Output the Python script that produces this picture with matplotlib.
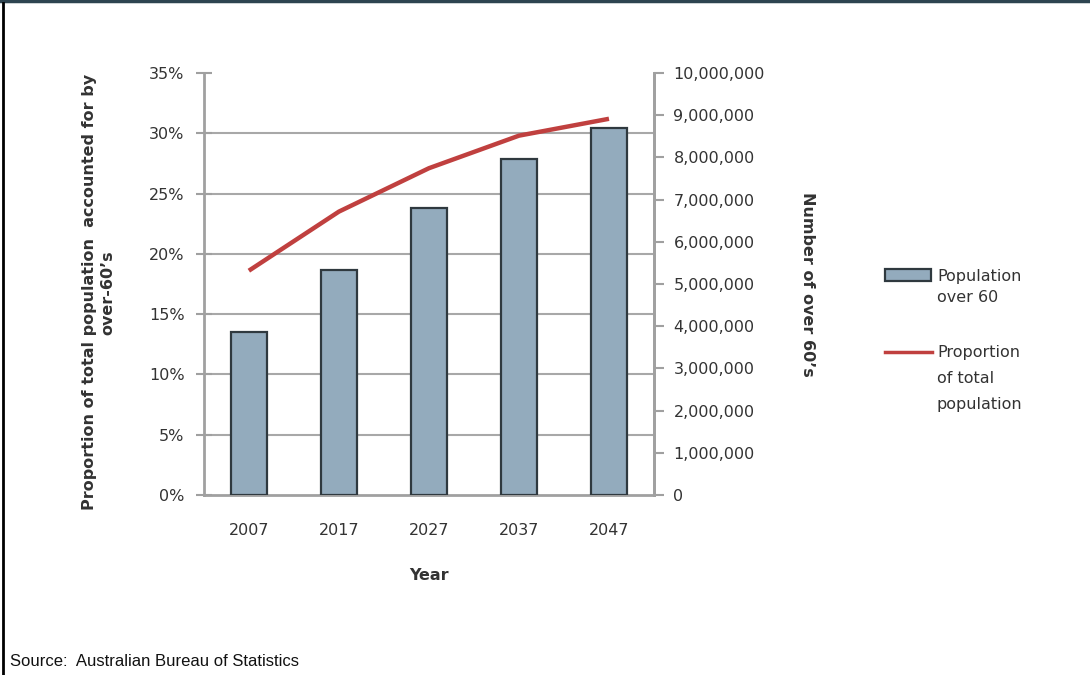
import numpy as np
import matplotlib
matplotlib.use('Agg')
import matplotlib.pyplot as plt
from matplotlib.lines import Line2D
from matplotlib.patches import Rectangle
from matplotlib.ticker import FuncFormatter

# data
years = ['2007', '2017', '2027', '2037', '2047']
over60 = [3870000, 5330000, 6790000, 7960000, 8690000]   # number of over 60's
proportion = [18.6, 23.5, 27.1, 29.8, 31.2]               # % of total population

pct_ticks = [0, 5, 10, 15, 20, 25, 30, 35]
num_ticks = np.arange(0, 10000001, 1000000)

spine_col = '#a0a0a0'
txt_col = '#333333'
bar_col = '#93abbd'
bar_edge = '#2f393f'
line_col = '#c0403f'
fs = 11.5

plt.rcParams['font.family'] = 'sans-serif'
plt.rcParams['font.sans-serif'] = ['DejaVu Sans']

fig = plt.figure(figsize=(10.9, 6.75), dpi=100)
ax_bar = fig.add_axes([0.187, 0.2667, 0.413, 0.6252])
ax_line = ax_bar.twinx()

x = np.arange(len(years))

# bars on the right axis
ax_bar.bar(x, over60, width=0.4, color=bar_col, edgecolor=bar_edge, linewidth=1.6, zorder=3)
ax_bar.set_ylim(0, 10000000)
ax_bar.set_xlim(-0.5, len(years) - 0.5)
ax_bar.yaxis.tick_right()
ax_bar.yaxis.set_label_position('right')
ax_bar.set_yticks(num_ticks)
ax_bar.yaxis.set_major_formatter(FuncFormatter(lambda v, p: '{:,.0f}'.format(v)))
# gridlines follow the percent ticks, drawn under the bars
ax_bar.set_yticks([t / 35 * 10000000 for t in pct_ticks], minor=True)
ax_bar.grid(which='minor', axis='y', color='#a8a8a8', linewidth=1.5, zorder=0)
ax_bar.tick_params(axis='y', which='minor', length=0)
ax_bar.tick_params(axis='y', which='major', direction='out', length=7, width=1.5,
                   color=spine_col, labelsize=fs, labelcolor=txt_col, pad=7)
ax_bar.set_xticks(x)
ax_bar.set_xticklabels(years)
ax_bar.tick_params(axis='x', length=0, labelsize=fs, labelcolor=txt_col, pad=20)
ax_bar.set_xlabel('Year', fontsize=fs, fontweight='bold', color=txt_col, labelpad=22)
ax_bar.set_ylabel('Number of over 60\u2019s', fontsize=fs, fontweight='bold', color=txt_col,
                  rotation=-90, labelpad=25, va='bottom')

# proportion line on the left axis
ax_line.plot(x, proportion, color=line_col, linewidth=3.2, solid_capstyle='butt', zorder=4)
ax_line.set_ylim(0, 35)
ax_line.yaxis.tick_left()
ax_line.yaxis.set_label_position('left')
ax_line.set_yticks(pct_ticks)
ax_line.set_yticklabels(['{}%'.format(t) for t in pct_ticks])
ax_line.tick_params(axis='y', direction='inout', length=12, width=1.5, color=spine_col,
                    labelsize=fs, labelcolor=txt_col, pad=8)
ax_line.set_ylabel('Proportion of total population  accounted for by\nover-60\u2019s',
                   fontsize=fs, fontweight='bold', color=txt_col, linespacing=1.3)
ax_line.yaxis.set_label_coords(-0.197, 0.48)

for a in (ax_bar, ax_line):
    a.spines['top'].set_visible(False)
    for s in ('left', 'right', 'bottom'):
        a.spines[s].set_color(spine_col)
        a.spines[s].set_linewidth(2)
ax_bar.spines['left'].set_visible(False)
ax_line.spines['bottom'].set_visible(False)

# legend, drawn by hand to keep the handles level with the first line
fig.add_artist(Rectangle((885 / 1090, 1 - 281 / 675), 46 / 1090, 12 / 675,
                         facecolor=bar_col, edgecolor=bar_edge, linewidth=1.6,
                         transform=fig.transFigure))
fig.add_artist(Line2D([885 / 1090, 932 / 1090], [1 - 352 / 675] * 2, color=line_col,
                      linewidth=2.5, transform=fig.transFigure))
legend_lines = [('Population', 276), ('over 60', 298), ('Proportion', 353),
                ('of total', 378), ('population', 404)]
for txt, yy in legend_lines:
    fig.text(937 / 1090, 1 - yy / 675, txt, fontsize=fs, color=txt_col,
             va='center', ha='left')

fig.text(10 / 1090, 1 - 661 / 675, 'Source:  Australian Bureau of Statistics',
         fontsize=12, family='Liberation Sans', color='#111111', va='center', ha='left')

# frame remnants
fig.add_artist(Line2D([0, 1], [0.999, 0.999], color='#2e4450', linewidth=2.5,
                      transform=fig.transFigure))
fig.add_artist(Line2D([3 / 1090, 3 / 1090], [0, 0.996], color='black', linewidth=2,
                      transform=fig.transFigure))

fig.savefig('out.png', dpi=100)
